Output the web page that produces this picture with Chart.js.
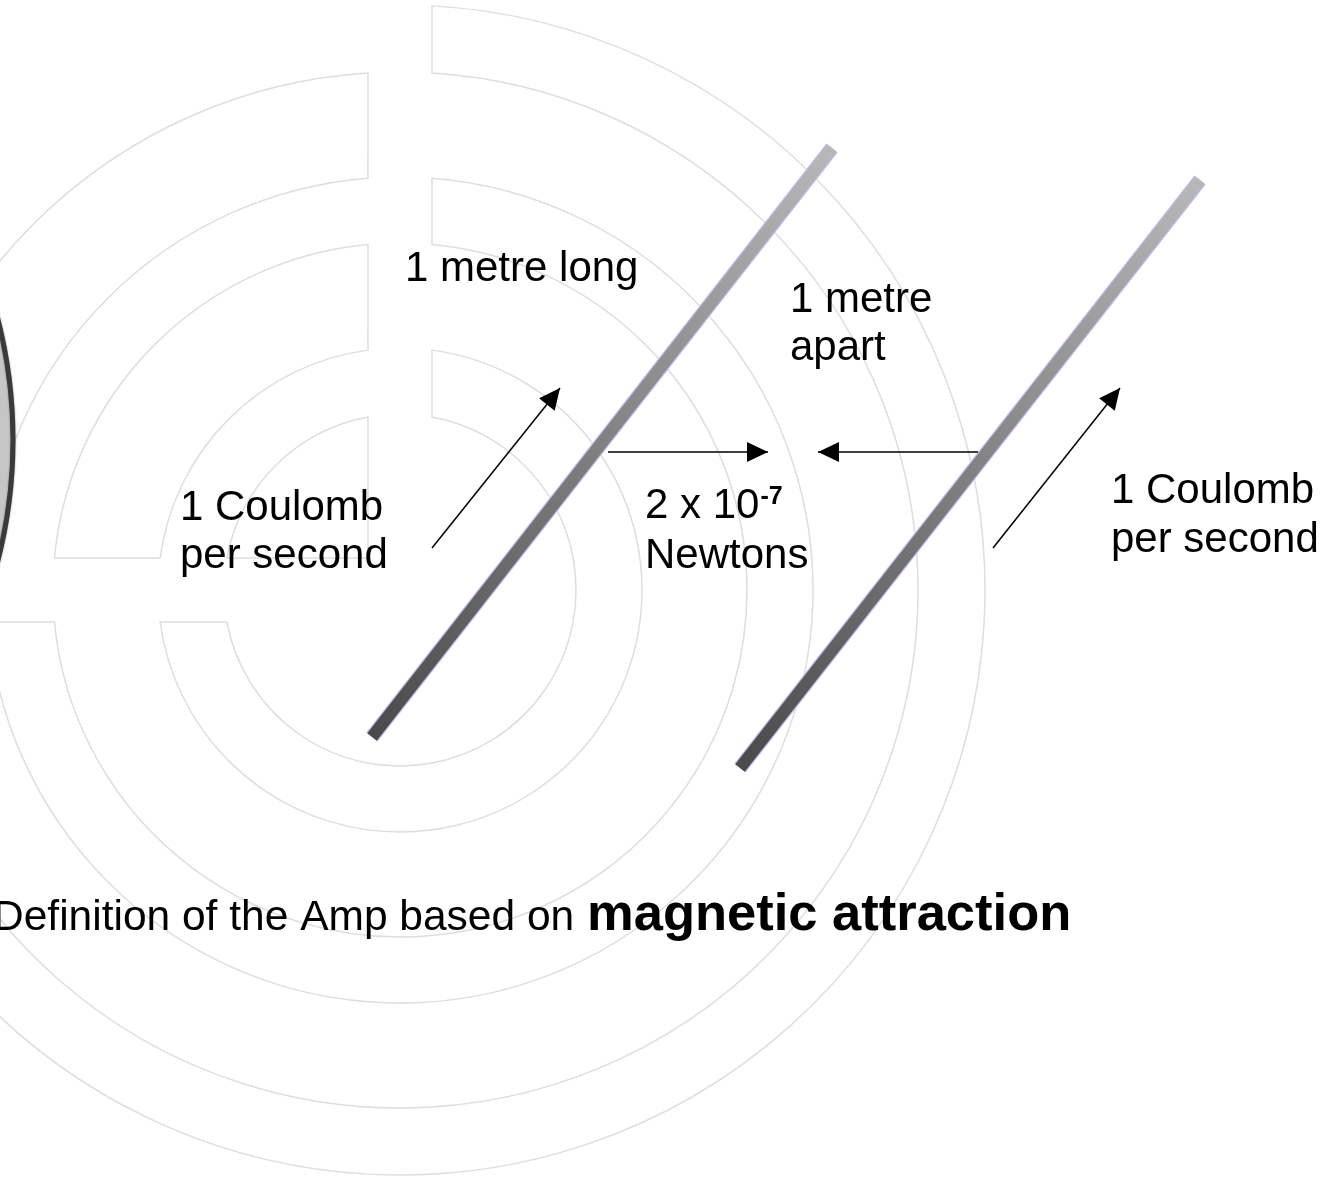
<!DOCTYPE html>
<html>
<head>
<meta charset="utf-8">
<title>Definition of the Amp</title>
<script src="https://cdn.jsdelivr.net/npm/chart.js@4.4.0/dist/chart.umd.min.js"></script>
<style>
  html, body { margin: 0; padding: 0; background: #fff; }
  canvas { display: block; }
</style>
</head>
<body>
<canvas id="amp" width="1332" height="1180"></canvas>
<script>
// diagram units are the slide's own pixel grid (x right, y down)
const ringCenter = [400, 590];
const ringGap = 32;
const wrapBands = [[176, 242], [347, 413], [518, 585]]; // right side, round to the bottom left
const cornerBands = [[242, 347], [413, 518]];            // top left quarter
const coreRadius = 176;

const rodA = [{ x: 372, y: 737 }, { x: 832, y: 148 }];
const rodB = [{ x: 740, y: 768 }, { x: 1200, y: 180 }];
const currentA = [{ x: 432, y: 548 }, { x: 560, y: 388 }];
const currentB = [{ x: 993, y: 548 }, { x: 1120, y: 388 }];
const forceA = [{ x: 608, y: 452 }, { x: 768, y: 452 }];
const forceB = [{ x: 978, y: 452 }, { x: 818, y: 452 }];

const labelText = ['1 metre long', '1 metre', 'apart', '1 Coulomb', 'per second',
  '2 x 10', 'Newtons', '1 Coulomb', 'per second'];
const labelAt = [[405, 281], [790, 312], [790, 360], [180, 520], [180, 568],
  [645, 518], [645, 568], [1111, 503], [1111, 552]];
const exponent = '-7';
const captionPlain = 'Definition of the Amp based on ';
const captionBold = 'magnetic attraction';
const captionAt = [-7, 930];

const FONT = '"Liberation Sans", Arial, Helvetica, sans-serif';

function rodGradient(chart, pts) {
  const { ctx, scales: { x, y } } = chart;
  const g = ctx.createLinearGradient(
    x.getPixelForValue(pts[0].x), y.getPixelForValue(pts[0].y),
    x.getPixelForValue(pts[1].x), y.getPixelForValue(pts[1].y));
  g.addColorStop(0, '#4a4a4a');
  g.addColorStop(1, '#b8b8b8');
  return g;
}

// gradients need the laid out scales, so they are set here
const rodShade = {
  id: 'rodShade',
  afterLayout(chart) {
    chart.data.datasets.forEach(ds => {
      if (ds.rod) ds.borderColor = rodGradient(chart, ds.data);
    });
  }
};

const backdrop = {
  id: 'backdrop',
  beforeDatasetsDraw(chart) {
    const { ctx, scales: { x, y } } = chart;
    const cx = x.getPixelForValue(ringCenter[0]);
    const cy = y.getPixelForValue(ringCenter[1]);
    const px = r => x.getPixelForValue(ringCenter[0] + r) - cx;
    const g = px(ringGap);
    const half = r => Math.sqrt(r * r - g * g);
    ctx.save();
    ctx.strokeStyle = '#dedede';
    ctx.lineWidth = 1.5;
    wrapBands.forEach(([a, b]) => {
      const r1 = px(a), r2 = px(b);
      ctx.beginPath();
      ctx.arc(cx, cy, r2, Math.atan2(-half(r2), g), Math.atan2(g, -half(r2)), false);
      ctx.arc(cx, cy, r1, Math.atan2(g, -half(r1)), Math.atan2(-half(r1), g), true);
      ctx.closePath();
      ctx.stroke();
    });
    cornerBands.forEach(([a, b]) => {
      const r1 = px(a), r2 = px(b);
      ctx.beginPath();
      ctx.arc(cx, cy, r2, Math.atan2(-g, -half(r2)), Math.atan2(-half(r2), -g), false);
      ctx.arc(cx, cy, r1, Math.atan2(-half(r1), -g), Math.atan2(-g, -half(r1)), true);
      ctx.closePath();
      ctx.stroke();
    });
    const rc = px(coreRadius);
    ctx.beginPath();
    ctx.moveTo(cx - g, cy - g);
    ctx.arc(cx, cy, rc, Math.atan2(-g, -half(rc)), Math.atan2(-half(rc), -g), false);
    ctx.closePath();
    ctx.stroke();

    // edge of the grey disc peeking in on the left
    ctx.beginPath();
    ctx.arc(x.getPixelForValue(-474), y.getPixelForValue(440), px(487), 0, Math.PI * 2);
    ctx.shadowColor = 'rgba(0,0,0,0.35)';
    ctx.shadowBlur = 4;
    ctx.fillStyle = '#c6c6c6';
    ctx.fill();
    ctx.shadowBlur = 2;
    ctx.strokeStyle = '#3a3a3a';
    ctx.lineWidth = 5;
    ctx.stroke();
    ctx.restore();
  }
};

const heads = {
  id: 'heads',
  afterDatasetsDraw(chart) {
    const { ctx } = chart;
    ctx.save();
    ctx.fillStyle = '#000';
    chart.data.datasets.forEach((ds, i) => {
      if (!ds.arrow) return;
      const pts = chart.getDatasetMeta(i).data;
      const a = pts[pts.length - 2], b = pts[pts.length - 1];
      const ang = Math.atan2(b.y - a.y, b.x - a.x);
      const len = 21, w = 10;
      ctx.beginPath();
      ctx.moveTo(b.x, b.y);
      ctx.lineTo(b.x - len * Math.cos(ang) + w * Math.sin(ang), b.y - len * Math.sin(ang) - w * Math.cos(ang));
      ctx.lineTo(b.x - len * Math.cos(ang) - w * Math.sin(ang), b.y - len * Math.sin(ang) + w * Math.cos(ang));
      ctx.closePath();
      ctx.fill();
    });
    ctx.restore();
  }
};

const labels = {
  id: 'labels',
  afterDraw(chart) {
    const { ctx, scales: { x, y } } = chart;
    ctx.save();
    ctx.fillStyle = '#000';
    ctx.textBaseline = 'alphabetic';
    ctx.textAlign = 'left';
    ctx.font = '42px ' + FONT;
    labelText.forEach((t, i) => {
      ctx.fillText(t, x.getPixelForValue(labelAt[i][0]), y.getPixelForValue(labelAt[i][1]));
    });
    // superscript on "2 x 10"
    const k = labelText.indexOf('2 x 10');
    const baseW = ctx.measureText(labelText[k]).width;
    ctx.font = 'bold 25px ' + FONT;
    ctx.fillText(exponent, x.getPixelForValue(labelAt[k][0]) + baseW + 1, y.getPixelForValue(labelAt[k][1] - 14));

    const capX = x.getPixelForValue(captionAt[0]);
    const capY = y.getPixelForValue(captionAt[1]);
    ctx.font = '42.5px ' + FONT;
    ctx.fillText(captionPlain, capX, capY);
    const w = ctx.measureText(captionPlain).width;
    ctx.font = 'bold 52.5px ' + FONT;
    ctx.fillText(captionBold, capX + w + 1, capY);
    ctx.restore();
  }
};

const line = (data, color, width, extra) => Object.assign({
  data, showLine: true, borderColor: color, borderWidth: width,
  pointRadius: 0, pointHoverRadius: 0, fill: false, tension: 0, borderCapStyle: 'butt'
}, extra || {});

// lower order is painted on top
new Chart(document.getElementById('amp'), {
  type: 'scatter',
  data: {
    datasets: [
      line(currentA, '#000', 1.5, { arrow: true, order: 1 }),
      line(currentB, '#000', 1.5, { arrow: true, order: 1 }),
      line(forceA, '#000', 1.5, { arrow: true, order: 1 }),
      line(forceB, '#000', 1.5, { arrow: true, order: 1 }),
      line(rodA, '#888', 12, { rod: true, order: 2 }),
      line(rodB, '#888', 12, { rod: true, order: 2 }),
      line(rodA, '#bcbcf2', 14.5, { order: 3 }),
      line(rodB, '#bcbcf2', 14.5, { order: 3 })
    ]
  },
  options: {
    responsive: false,
    animation: false,
    events: [],
    layout: { padding: 0 },
    scales: {
      x: { type: 'linear', min: 0, max: 1332, display: false },
      y: { type: 'linear', min: 0, max: 1180, reverse: true, display: false }
    },
    plugins: {
      legend: { display: false },
      tooltip: { enabled: false }
    }
  },
  plugins: [rodShade, backdrop, heads, labels]
});
</script>
</body>
</html>
